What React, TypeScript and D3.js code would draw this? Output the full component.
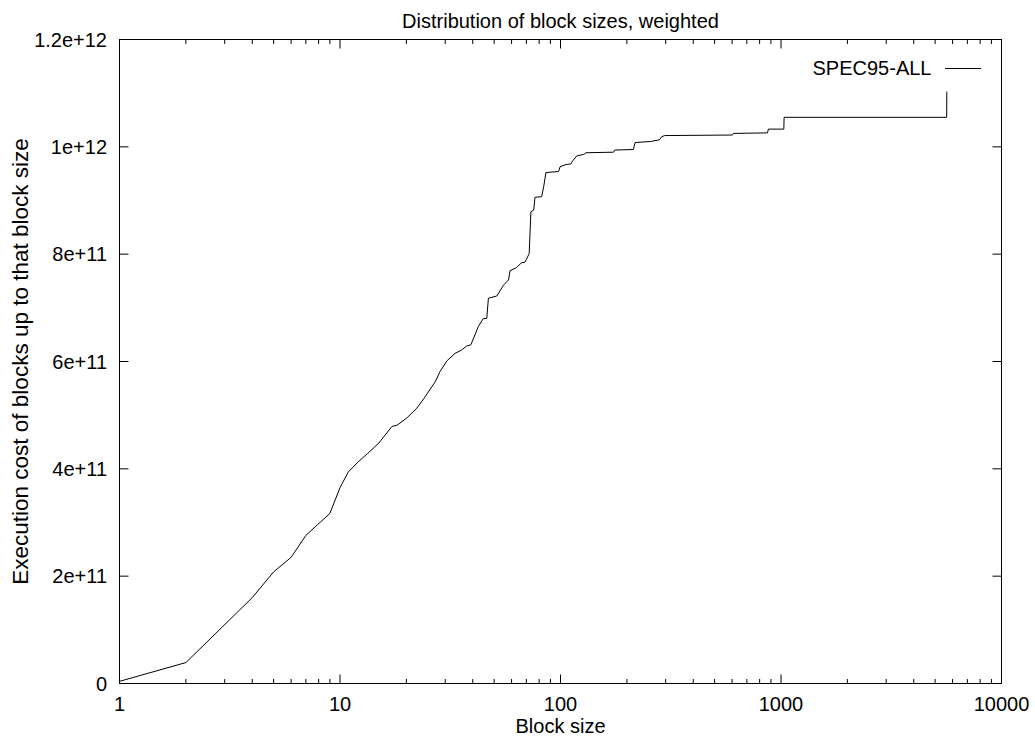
import React from "react";
import * as d3 from "d3";

const title = "Distribution of block sizes, weighted";
const xLabel = "Block size";
const yLabel = "Execution cost of blocks up to that block size";
const seriesName = "SPEC95-ALL";

const xTickValues = [1, 10, 100, 1000, 10000];
const xTickLabels = ["1", "10", "100", "1000", "10000"];
const yTickValues = [0, 2e11, 4e11, 6e11, 8e11, 1e12, 1.2e12];
const yTickLabels = ["0", "2e+11", "4e+11", "6e+11", "8e+11", "1e+12", "1.2e+12"];

const blockSize = [
  1, 2, 4, 5, 6, 7, 9, 10, 10.9, 12.1, 13.3, 15, 17.2, 18.1, 20.0, 22.3, 24.3, 27.0,
  28.4, 30.5, 33.2, 35.5, 37.6, 39.2, 42.4, 44.6, 46.3, 47.1, 51.4, 55.1, 58.1, 59.0,
  63.1, 66.6, 69.0, 72.1, 73.4, 75.6, 76.6, 82.1, 83.9, 85.9, 98.0, 99.6, 106, 111.3,
  113.6, 118.5, 127.6, 130.5, 174, 176, 214, 218, 256, 281, 288, 297, 602, 608, 868,
  877, 1030, 1033, 5640, 5650,
];
const cost = [
  0.04e11, 0.39e11, 1.6e11, 2.08e11, 2.35e11, 2.76e11, 3.17e11, 3.65e11, 3.94e11,
  4.13e11, 4.28e11, 4.48e11, 4.79e11, 4.81e11, 4.94e11, 5.13e11, 5.34e11, 5.62e11,
  5.81e11, 6.01e11, 6.15e11, 6.21e11, 6.29e11, 6.31e11, 6.65e11, 6.8e11, 6.8e11,
  7.18e11, 7.22e11, 7.42e11, 7.52e11, 7.69e11, 7.75e11, 7.84e11, 7.85e11, 8.01e11,
  8.79e11, 8.82e11, 9.06e11, 9.07e11, 9.26e11, 9.52e11, 9.54e11, 9.63e11, 9.67e11,
  9.68e11, 9.74e11, 9.83e11, 9.86e11, 9.89e11, 9.9e11, 9.94e11, 9.95e11, 10.08e11,
  10.1e11, 10.13e11, 10.19e11, 10.21e11, 10.22e11, 10.25e11, 10.26e11, 10.33e11,
  10.33e11, 10.55e11, 10.55e11, 11.03e11,
];

const W = 1035;
const H = 738;
const L = 119.5;
const R = 1001.5;
const T = 39.5;
const B = 683.5;
const FONT = "'Liberation Sans', Arial, Helvetica, sans-serif";
const FS = 20;
const FS_YLABEL = 22.5;

export default function App() {
  const x = d3.scaleLog().domain([1, 10000]).range([L, R]);
  const y = d3.scaleLinear().domain([0, 1.2e12]).range([B, T]);
  const data = blockSize.map((b, i) => [b, cost[i]] as [number, number]);
  const line = d3
    .line<[number, number]>()
    .x((d) => x(d[0]))
    .y((d) => y(d[1]));

  const minor: number[] = [];
  for (let dec = 1; dec < 10000; dec *= 10) {
    for (let k = 2; k <= 9; k++) minor.push(dec * k);
  }
  const majorLen = 9;
  const minorLen = 4.5;

  return (
    <svg
      width={W}
      height={H}
      style={{ position: "absolute", left: 0, top: 0, background: "#fff" }}
      fontFamily={FONT}
      fontSize={FS}
    >
      <rect x={0} y={0} width={W} height={H} fill="#fff" />
      {xTickValues.map((v, i) => (
        <g key={"xt" + i}>
          <line x1={x(v)} x2={x(v)} y1={B} y2={B - majorLen} stroke="#000" />
          <line x1={x(v)} x2={x(v)} y1={T} y2={T + majorLen} stroke="#000" />
          <text x={x(v)} y={710.5} textAnchor="middle" fill="#000">
            {xTickLabels[i]}
          </text>
        </g>
      ))}
      {minor.map((v, i) => (
        <g key={"xm" + i}>
          <line x1={x(v)} x2={x(v)} y1={B} y2={B - minorLen} stroke="#000" />
          <line x1={x(v)} x2={x(v)} y1={T} y2={T + minorLen} stroke="#000" />
        </g>
      ))}
      {yTickValues.map((v, i) => (
        <g key={"yt" + i}>
          <line x1={L} x2={L + majorLen} y1={y(v)} y2={y(v)} stroke="#000" />
          <line x1={R} x2={R - majorLen} y1={y(v)} y2={y(v)} stroke="#000" />
          <text x={107} y={y(v) + 7.2} textAnchor="end" fill="#000">
            {yTickLabels[i]}
          </text>
        </g>
      ))}
      <rect x={L} y={T} width={R - L} height={B - T} fill="none" stroke="#000" strokeWidth={1} />
      <path d={line(data) || ""} fill="none" stroke="#000" strokeWidth={1} />
      <text x={931.5} y={75} textAnchor="end" fill="#000">
        {seriesName}
      </text>
      <line x1={945} x2={981} y1={68.5} y2={68.5} stroke="#000" />
      <text x={(L + R) / 2} y={27.5} textAnchor="middle" fill="#000">
        {title}
      </text>
      <text x={(L + R) / 2} y={733} textAnchor="middle" fill="#000">
        {xLabel}
      </text>
      <text
        transform={`translate(27.5,${(T + B) / 2}) rotate(-90)`}
        textAnchor="middle"
        fill="#000"
        fontSize={FS_YLABEL}
      >
        {yLabel}
      </text>
    </svg>
  );
}
